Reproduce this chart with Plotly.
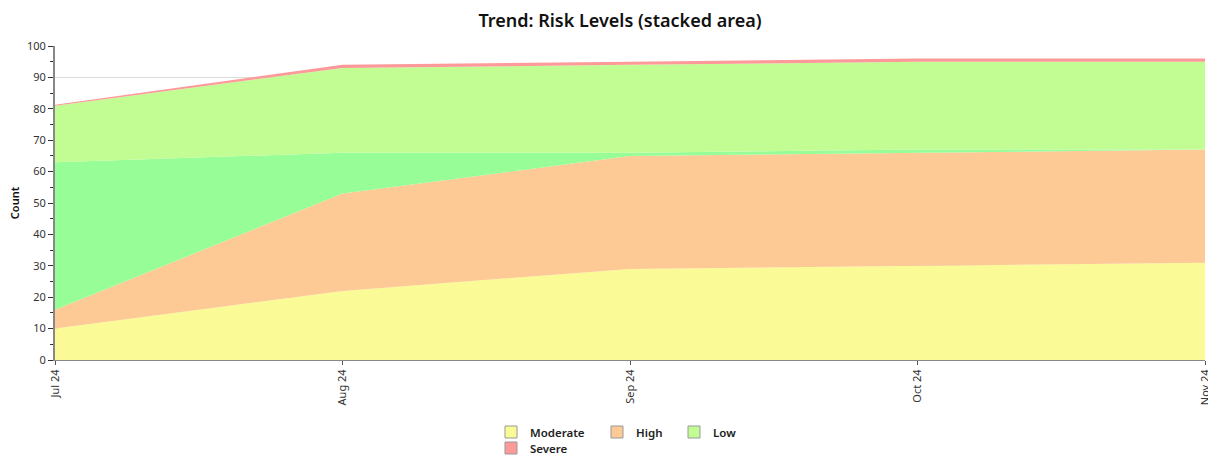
import plotly.graph_objects as go

months = ["Jul 24", "Aug 24", "Sep 24", "Oct 24", "Nov 24"]
moderate = [10, 22, 29, 30, 31]
high = [6, 31, 36, 36, 36]
other_green = [47, 13, 1, 1, 0]
low = [18, 27, 28, 28, 28]
severe = [0.3, 1, 1, 1, 1]

x = list(range(len(months)))
font = "Noto Sans"

W, H = 1208, 456
L, R, T, B = 55, 1205, 46, 360
def px(xp):
    return (xp - L) / (R - L)
def py(yp):
    return (B - yp) / (B - T)

fig = go.Figure()
series = [
    ("Moderate", moderate, "#fafa96"),
    ("High", high, "#fdc995"),
    ("Other", other_green, "#97fd97"),
    ("Low", low, "#c2fd93"),
    ("Severe", severe, "#fd9999"),
]
for name, vals, col in series:
    fig.add_trace(go.Scatter(
        x=x, y=vals, name=name, mode="lines", stackgroup="one",
        line=dict(width=0, color=col), fillcolor=col, showlegend=False,
    ))

# manual legend (positions in page pixels)
legend_items = [("Moderate", "#fafa96", 505, 432), ("High", "#fdc995", 611, 432),
                ("Low", "#c2fd93", 688, 432), ("Severe", "#fd9999", 505, 448)]
shapes, annotations = [], []
for name, col, bx, cy in legend_items:
    shapes.append(dict(type="rect", xref="paper", yref="paper",
                       x0=px(bx), x1=px(bx + 12), y0=py(cy + 6), y1=py(cy - 6),
                       fillcolor=col, line=dict(color="#999", width=1)))
    annotations.append(dict(text=name, xref="paper", yref="paper", x=px(bx + 23),
                            y=py(cy), xanchor="left", yanchor="middle", showarrow=False,
                            font=dict(size=11.5, weight=600, color="#222")))

fig.update_layout(
    width=W, height=H,
    margin=dict(l=L, r=W - R, t=T, b=H - B),
    paper_bgcolor="white", plot_bgcolor="white",
    font=dict(family=font, size=11, color="#333"),
    title=dict(text="Trend: Risk Levels (stacked area)", x=620 / W, xanchor="center",
               y=1 - 21 / H, yanchor="middle", yref="container", xref="container",
               font=dict(family=font, size=18, color="#111", weight=600)),
    showlegend=False,
    shapes=shapes, annotations=annotations,
    xaxis=dict(range=[0, 4], tickvals=x, ticktext=months, tickangle=-90,
               showgrid=False, showline=True, linecolor="#888", linewidth=1,
               ticks="outside", ticklen=4, tickcolor="#555", zeroline=False,
               tickfont=dict(size=11), automargin=False, ticklabeloverflow="allow"),
    yaxis=dict(range=[0, 100], dtick=10, showgrid=True, gridcolor="#dcdcdc",
               showline=True, linecolor="#888", linewidth=2,
               ticks="outside", ticklen=5, tickcolor="#333", zeroline=False,
               minor=dict(dtick=5, ticks="outside", ticklen=3, tickcolor="#333", showgrid=False),
               title=dict(text="Count", font=dict(size=11, weight=600, color="#111"), standoff=5),
               tickfont=dict(size=11), automargin=False),
)
fig.write_html(
    "out.html",
    config={"displayModeBar": False},
    post_script="document.body.style.margin='0';document.body.style.overflow='hidden';",
)
